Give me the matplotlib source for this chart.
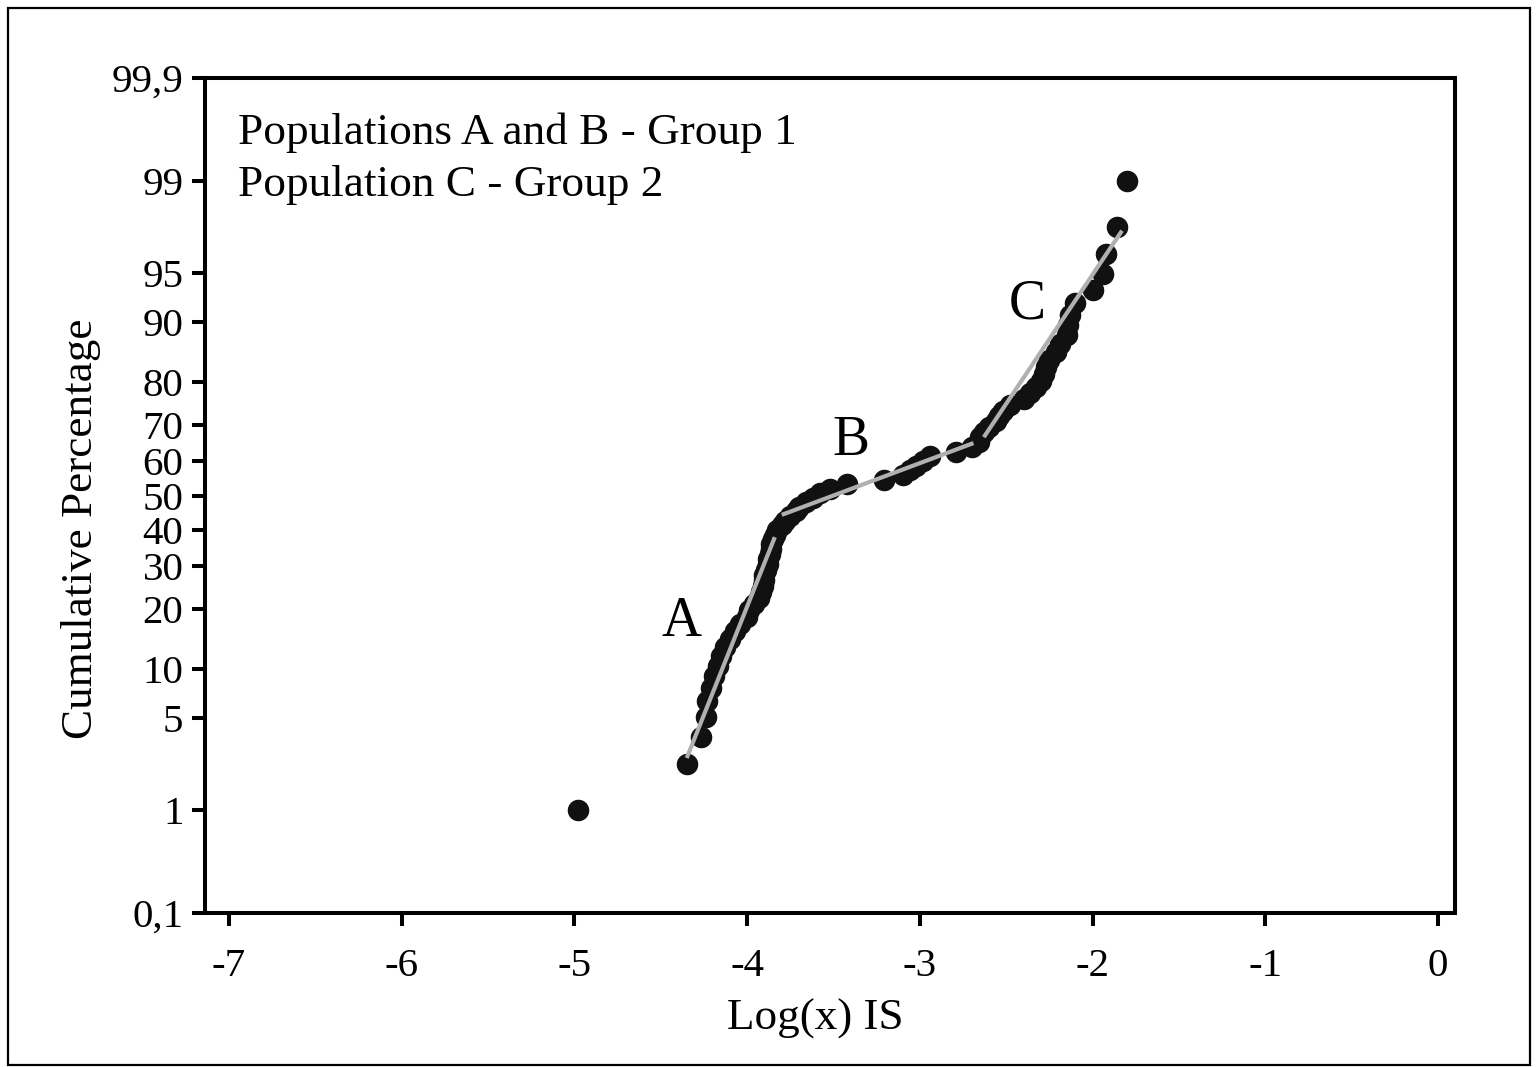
"""Cumulative probability plot of Log(x) IS with three fitted populations."""
from statistics import NormalDist

import matplotlib
matplotlib.use("Agg")
import matplotlib.pyplot as plt
import numpy as np
from matplotlib.patches import Rectangle
from matplotlib.ticker import FixedLocator, FixedFormatter, NullLocator

plt.rcParams["font.family"] = ["Liberation Serif", "DejaVu Serif"]

# sorted samples (x) and their cumulative percentage (y)
log_is = [
    -4.98, -4.35, -4.27, -4.24, -4.23, -4.21, -4.19, -4.17, -4.15, -4.13,
    -4.10, -4.07, -4.04, -4.00, -3.99, -3.96, -3.93, -3.92, -3.91, -3.90,
    -3.90, -3.89, -3.88, -3.88, -3.87, -3.86, -3.86, -3.85, -3.84, -3.83,
    -3.80, -3.78, -3.75, -3.72, -3.70, -3.66, -3.62, -3.58, -3.52, -3.42,
    -3.21, -3.10, -3.06, -3.02, -2.98, -2.94, -2.79, -2.70, -2.66, -2.65,
    -2.63, -2.60, -2.56, -2.54, -2.52, -2.48, -2.40, -2.36, -2.33, -2.30,
    -2.28, -2.27, -2.25, -2.21, -2.19, -2.15, -2.14, -2.13, -2.10, -2.00,
    -1.94, -1.92, -1.86, -1.80,
]
cum_pct = [
    1.00, 2.34, 3.69, 5.03, 6.37, 7.71, 9.06, 10.40, 11.74, 13.08,
    14.42, 15.77, 17.11, 18.45, 19.80, 21.14, 22.48, 23.82, 25.17, 26.51,
    27.85, 29.19, 30.54, 31.88, 33.22, 34.56, 35.91, 37.25, 38.59, 39.93,
    41.28, 42.62, 43.96, 45.30, 46.65, 47.99, 49.33, 50.67, 52.01, 53.36,
    54.70, 56.04, 57.38, 58.73, 60.07, 61.41, 62.75, 64.10, 65.44, 66.78,
    68.12, 69.47, 70.81, 72.15, 73.49, 74.84, 76.18, 77.52, 78.86, 80.21,
    81.55, 82.89, 84.23, 85.58, 86.92, 88.26, 89.60, 90.95, 92.29, 93.63,
    94.97, 96.32, 97.66, 99.00,
]

# fitted population lines
fit_a_x = [-4.35, -3.84]
fit_a_y = [2.6, 37.9]
fit_b_x = [-3.80, -2.69]
fit_b_y = [44.3, 65.1]
fit_c_x = [-2.63, -1.83]
fit_c_y = [66.7, 97.5]

pop_names = ["A", "B", "C"]
pop_label_x = [-4.38, -3.40, -2.38]
pop_label_y = [17.5, 65.7, 92.1]

y_ticks = [0.1, 1, 5, 10, 20, 30, 40, 50, 60, 70, 80, 90, 95, 99, 99.9]
y_tick_labels = ["0,1", "1", "5", "10", "20", "30", "40", "50", "60", "70",
                 "80", "90", "95", "99", "99,9"]
x_ticks = [-7, -6, -5, -4, -3, -2, -1, 0]

_nd = NormalDist()
_ppf = np.vectorize(_nd.inv_cdf, otypes=[float])
_cdf = np.vectorize(_nd.cdf, otypes=[float])


def probit(p):
    p = np.clip(np.asarray(p, dtype=float) / 100.0, 1e-9, 1 - 1e-9)
    return _ppf(p)


def inv_probit(z):
    return _cdf(np.asarray(z, dtype=float)) * 100.0


W, H = 1537, 1067
fig = plt.figure(figsize=(W / 100, H / 100), dpi=100)
ax = fig.add_axes([205 / W, 1 - 913 / H, (1455 - 205) / W, (913 - 78) / H])
ax.set_yscale("function", functions=(probit, inv_probit))

ax.plot(log_is, cum_pct, "o", color="#111111", markersize=14.5, zorder=2)
for fx, fy in [(fit_a_x, fit_a_y), (fit_b_x, fit_b_y), (fit_c_x, fit_c_y)]:
    ax.plot(fx, fy, color="#b0b0b0", lw=3, solid_capstyle="butt", zorder=3)

for name, lx, ly in zip(pop_names, pop_label_x, pop_label_y):
    ax.text(lx, ly, name, fontsize=40, ha="center", va="center")

ax.text(0.026, 0.935, "Populations A and B - Group 1", transform=ax.transAxes,
        fontsize=32.6, va="center", ha="left")
ax.text(0.026, 0.872, "Population C - Group 2", transform=ax.transAxes,
        fontsize=32.6, va="center", ha="left")

ax.set_xlim(-7.139, 0.098)
ax.set_ylim(0.1, 99.9)
ax.yaxis.set_major_locator(FixedLocator(y_ticks))
ax.yaxis.set_major_formatter(FixedFormatter(y_tick_labels))
ax.yaxis.set_minor_locator(NullLocator())
ax.set_xticks(x_ticks)
ax.set_xticklabels([str(t) for t in x_ticks])

for sp in ax.spines.values():
    sp.set_linewidth(2.9)
ax.tick_params(axis="both", direction="out", length=9.5, width=2.9,
               labelsize=29.5, pad=6)
ax.tick_params(axis="x", pad=16)

ax.set_xlabel("Log(x) IS", fontsize=32.5)
ax.xaxis.set_label_coords(0.488, -0.103)
ax.set_ylabel("Cumulative Percentage", fontsize=32.5)
ax.yaxis.set_label_coords(-0.083, 0.46)

fig.patches.append(Rectangle((8 / W, 2 / H), (1530 - 8) / W, (1062 - 5) / H,
                             transform=fig.transFigure, fill=False,
                             ec="black", lw=1.6))

fig.savefig("out.png", dpi=100)
